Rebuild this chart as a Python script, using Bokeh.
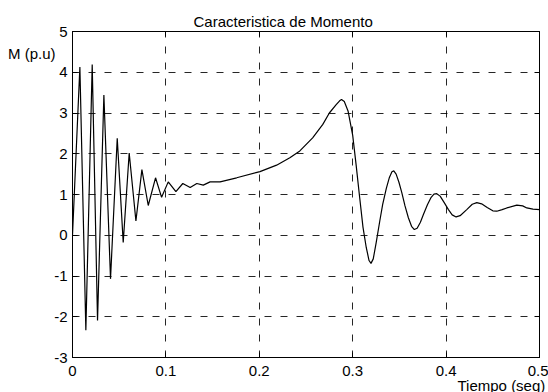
from bokeh.plotting import figure
from bokeh.models import Range1d, LinearAxis, FixedTicker, Title
from bokeh.embed import file_html
from bokeh.resources import INLINE

# ---- data ----
t = [0.0, 0.0079, 0.0143, 0.0211, 0.0268, 0.0336, 0.0407, 0.0479, 0.0543, 0.0607,
     0.0679, 0.0743, 0.0811, 0.0889, 0.0954, 0.1025, 0.1107, 0.1181, 0.126, 0.1331,
     0.140, 0.1473, 0.158, 0.1758, 0.2007, 0.2185, 0.2327, 0.2434, 0.2571, 0.2680,
     0.275, 0.2821, 0.2860, 0.2880, 0.2910, 0.2950, 0.300, 0.3036, 0.3071, 0.3110,
     0.3145, 0.3175, 0.3196, 0.3220, 0.3250, 0.3290, 0.3321, 0.3360, 0.3393, 0.3420,
     0.3440, 0.3465, 0.3495, 0.3525, 0.3560, 0.3596, 0.3630, 0.3660, 0.3690, 0.3725,
     0.3757, 0.3800, 0.3840, 0.3870, 0.3900, 0.3936, 0.3980, 0.4025, 0.4065, 0.4107,
     0.4150, 0.4221, 0.4280, 0.4329, 0.4380, 0.4440, 0.4500, 0.4543, 0.4600, 0.4650,
     0.4757, 0.4820, 0.4864, 0.4930, 0.500]
m = [0.0, 4.13, -2.33, 4.19, -2.09, 3.44, -1.07, 2.38, -0.18, 2.02,
     0.35, 1.61, 0.73, 1.41, 0.93, 1.31, 1.07, 1.27, 1.17, 1.27,
     1.23, 1.31, 1.31, 1.41, 1.56, 1.72, 1.90, 2.07, 2.39, 2.72,
     3.0, 3.20, 3.30, 3.33, 3.28, 3.05, 2.45, 1.74, 1.0, 0.2,
     -0.3, -0.62, -0.69, -0.58, -0.2, 0.35, 0.76, 1.15, 1.42, 1.56,
     1.58, 1.50, 1.30, 1.05, 0.72, 0.43, 0.22, 0.14, 0.17, 0.32,
     0.51, 0.75, 0.93, 1.01, 1.02, 0.96, 0.80, 0.63, 0.50, 0.45,
     0.48, 0.63, 0.76, 0.80, 0.77, 0.68, 0.60, 0.59, 0.63, 0.67,
     0.74, 0.72, 0.67, 0.64, 0.63]

x_ticks = [0, 0.1, 0.2, 0.3, 0.4, 0.5]
x_tick_labels = ["0", "0.1", "0.2", "0.3", "0.4", "0.5"]
y_ticks = [-3, -2, -1, 0, 1, 2, 3, 4, 5]
y_tick_labels = ["-3", "-2", "-1", "0", "1", "2", "3", "4", "5"]

title_text = "Caracteristica de Momento"
x_label_text = "Tiempo (seg)"
y_label_text = "M (p.u)"
y_label_at = 4.45   # level (in M units) beside which the y label sits

FONT = "Liberation Sans"
FS = "15px"

p = figure(width=548, height=392, x_range=Range1d(0, 0.5), y_range=Range1d(-3, 5),
           output_backend="svg", toolbar_location=None,
           min_border_left=72, min_border_right=9, min_border_top=31, min_border_bottom=35)
p.background_fill_color = "white"
p.border_fill_color = "white"
p.outline_line_color = "black"
p.outline_line_width = 1

def style_axis(ax, ticks, labels, show_labels=True):
    ax.ticker = FixedTicker(ticks=ticks)
    ax.major_tick_in = 5
    ax.major_tick_out = 0
    ax.minor_tick_in = 0
    ax.minor_tick_out = 0
    ax.axis_line_color = "black"
    ax.major_tick_line_color = "black"
    ax.major_label_text_font = FONT
    if show_labels:
        ax.major_label_text_color = "black"
        ax.major_label_text_font_size = FS
        ax.major_label_overrides = {tk: lb for tk, lb in zip(ticks, labels)}
    else:
        ax.major_label_text_color = None
        ax.major_label_text_font_size = "0px"
        ax.major_label_standoff = 0

style_axis(p.xaxis[0], x_ticks, x_tick_labels)
p.xaxis[0].major_label_standoff = 8
style_axis(p.yaxis[0], y_ticks, y_tick_labels)
p.yaxis[0].major_label_standoff = 5

top_ax = LinearAxis()
style_axis(top_ax, x_ticks, x_tick_labels, show_labels=False)
p.add_layout(top_ax, "above")
right_ax = LinearAxis()
style_axis(right_ax, y_ticks, y_tick_labels, show_labels=False)
p.add_layout(right_ax, "right")

# y label: an extra, line-less left axis whose single label reads "M (p.u)"
ylab_ax = LinearAxis(ticker=FixedTicker(ticks=[y_label_at]),
                     major_label_overrides={y_label_at: y_label_text},
                     axis_line_color=None, major_tick_line_color=None,
                     minor_tick_line_color=None, major_tick_in=0, major_tick_out=0,
                     minor_tick_in=0, minor_tick_out=0,
                     major_label_standoff=-4, major_label_text_font=FONT,
                     major_label_text_font_size=FS, major_label_text_color="black")
p.add_layout(ylab_ax, "left")

for g, ticks in ((p.xgrid[0], x_ticks), (p.ygrid[0], y_ticks)):
    g.ticker = FixedTicker(ticks=ticks)
    g.grid_line_color = "black"
    g.grid_line_width = 1
    g.grid_line_dash = "7 9"
    g.grid_line_alpha = 0.85

p.line(t, m, line_color="black", line_width=1.2)

# title
p.title.text = title_text
p.title.align = "left"
p.title.offset = 121
p.title.standoff = 4
p.title.text_font = FONT
p.title.text_font_size = FS
p.title.text_font_style = "normal"
p.title.text_color = "black"

# x label as a title below the axis
xt = Title(text=x_label_text, align="left", offset=385, standoff=-8, text_font=FONT,
           text_font_size=FS, text_font_style="normal", text_color="black")
p.add_layout(xt, "below")

open("out.html", "w").write(file_html(p, INLINE))
